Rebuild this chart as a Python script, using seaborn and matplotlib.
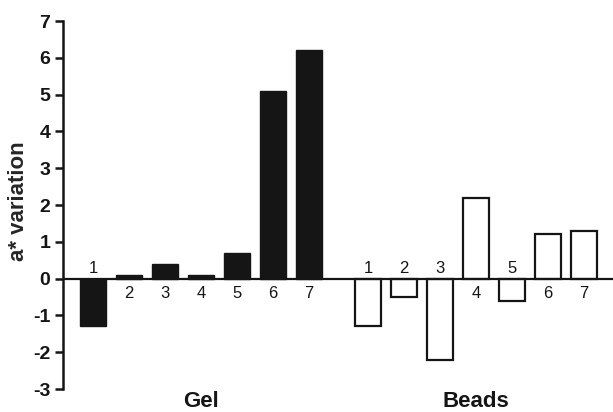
import matplotlib
matplotlib.use("Agg")
import matplotlib.pyplot as plt
import seaborn as sns
import numpy as np
import pandas as pd

# Data
sample_labels = ["1", "2", "3", "4", "5", "6", "7"]
gel_values = [-1.3, 0.1, 0.4, 0.1, 0.7, 5.1, 6.2]
beads_values = [-1.3, -0.5, -2.2, 2.2, -0.6, 1.2, 1.3]
group_names = ["Gel", "Beads"]
y_ticks = [-3, -2, -1, 0, 1, 2, 3, 4, 5, 6, 7]

sns.set_theme(style="ticks")
plt.rcParams['font.family'] = ['Liberation Sans', 'DejaVu Sans']

gel_pos = np.arange(len(gel_values), dtype=float)
beads_pos = gel_pos + len(gel_values) + 0.64

df_gel = pd.DataFrame({"x": gel_pos, "y": gel_values})
df_beads = pd.DataFrame({"x": beads_pos, "y": beads_values})

fig = plt.figure(figsize=(6.13, 4.12), dpi=100)
ax = fig.add_axes([63 / 613, 1 - 389 / 412, 1 - 63 / 613, (389 - 21) / 412])

sns.barplot(data=df_gel, x="x", y="y", native_scale=True, width=0.72,
            color="#151515", edgecolor="#151515", linewidth=1.0, ax=ax,
            saturation=1)
sns.barplot(data=df_beads, x="x", y="y", native_scale=True, width=0.72,
            color="white", edgecolor="#151515", linewidth=1.6, ax=ax,
            saturation=1)

ax.axhline(0, color="#151515", linewidth=1.6, zorder=5)

ax.set_xlim(-0.83, 14.45)
ax.set_ylim(-3, 7)
ax.set_yticks(y_ticks)
ax.set_yticklabels([str(t) for t in y_ticks], fontsize=14, fontweight="bold")
ax.set_xticks([])
ax.set_xlabel("")
ax.set_ylabel("a* variation", fontsize=16, fontweight="bold")
ax.yaxis.set_label_coords(-(63 - 29) / 550, 0.51)

for side in ["top", "right", "bottom"]:
    ax.spines[side].set_visible(False)
ax.spines["left"].set_linewidth(1.8)
ax.spines["left"].set_color("#151515")
ax.tick_params(axis="y", length=6, width=1.8, color="#151515", pad=3,
               labelcolor="#151515")

# Sample number labels
for positions, values in [(gel_pos, gel_values), (beads_pos, beads_values)]:
    for p, v, lab in zip(positions, values, sample_labels):
        if v < 0:
            ax.text(p, 0.08, lab, ha="center", va="bottom", fontsize=12, color="#151515")
        else:
            ax.text(p, -0.2, lab, ha="center", va="top", fontsize=12, color="#151515")

# Group labels
ax.text(gel_pos[3], -3.33, group_names[0], ha="center", va="center",
        fontsize=16, fontweight="bold", clip_on=False, color="#151515")
ax.text(beads_pos[3], -3.33, group_names[1], ha="center", va="center",
        fontsize=16, fontweight="bold", clip_on=False, color="#151515")

fig.savefig("out.png", dpi=100)
